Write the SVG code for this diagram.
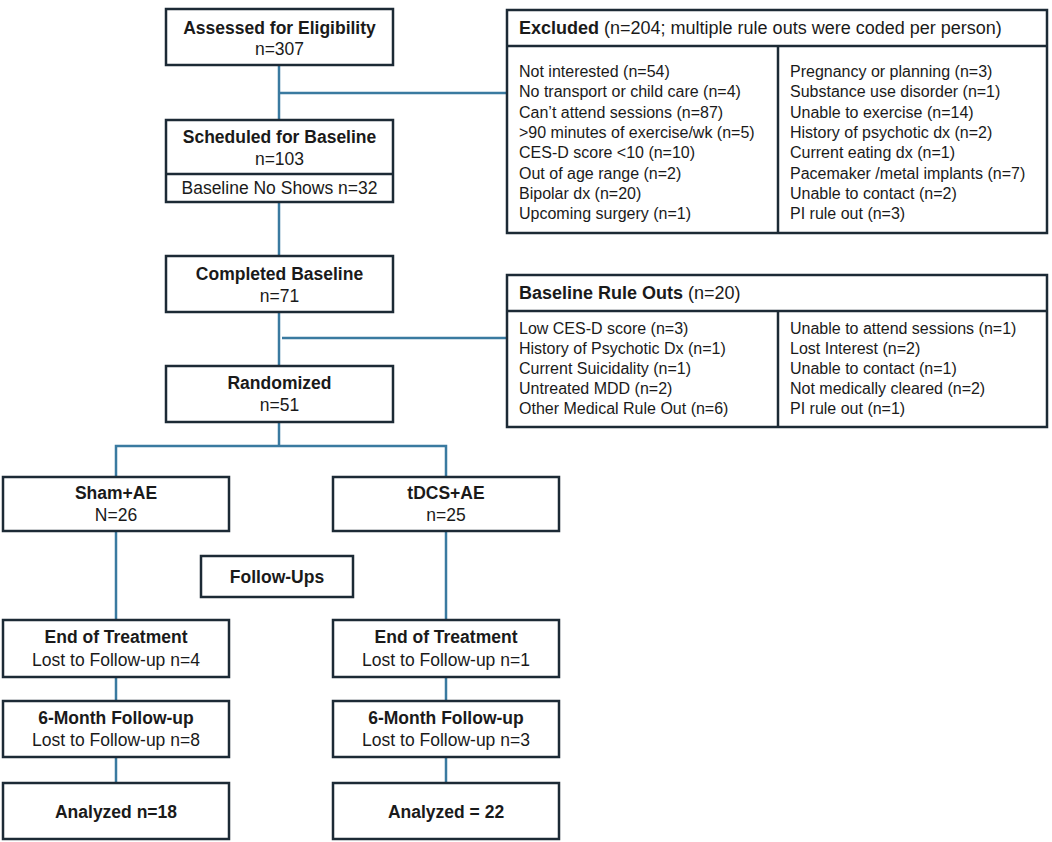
<svg xmlns="http://www.w3.org/2000/svg" width="1052" height="842" viewBox="0 0 1052 842">
<style>
.box{fill:#fff;stroke:#1c2a35;stroke-width:2.5}
.div{stroke:#1c2a35;stroke-width:2.5;fill:none}
.con{stroke:#3a7aa0;stroke-width:2.5;fill:none}
text{font-family:"Liberation Sans",Arial,sans-serif;font-size:16px;fill:#1a1a1a}
.b{font-size:17.5px}
.h{font-size:18px}
.t{font-weight:bold}
.c{text-anchor:middle}
</style>
<rect width="1052" height="842" fill="#fff"/>
<g id="connectors">
<line class="con" x1="279" y1="65" x2="279" y2="120"/>
<line class="con" x1="279" y1="93" x2="507" y2="93"/>
<line class="con" x1="279" y1="202" x2="279" y2="256"/>
<line class="con" x1="279" y1="312" x2="279" y2="366"/>
<line class="con" x1="282" y1="338" x2="507" y2="338"/>
<polyline class="con" points="279,422 279,446"/>
<polyline class="con" points="116,477 116,446 446,446 446,477"/>
<line class="con" x1="116" y1="531" x2="116" y2="620"/>
<line class="con" x1="116" y1="677" x2="116" y2="701"/>
<line class="con" x1="116" y1="757" x2="116" y2="783"/>
<line class="con" x1="446" y1="531" x2="446" y2="620"/>
<line class="con" x1="446" y1="677" x2="446" y2="701"/>
<line class="con" x1="446" y1="757" x2="446" y2="783"/>
</g>
<g id="assessed">
<rect class="box" x="166" y="9" width="227" height="56"/>
<text class="b t c" x="279.5" y="34">Assessed for Eligibility</text>
<text class="b c" x="279.5" y="55">n=307</text>
</g>
<g id="scheduled">
<rect class="box" x="166" y="120" width="227" height="82"/>
<line class="div" x1="166" y1="174" x2="393" y2="174"/>
<text class="b t c" x="279.5" y="143">Scheduled for Baseline</text>
<text class="b c" x="279.5" y="165">n=103</text>
<text class="b c" x="279.5" y="194">Baseline No Shows n=32</text>
</g>
<g id="completed">
<rect class="box" x="166" y="256" width="227" height="56"/>
<text class="b t c" x="279.5" y="280">Completed Baseline</text>
<text class="b c" x="279.5" y="302">n=71</text>
</g>
<g id="randomized">
<rect class="box" x="166" y="366" width="227" height="56"/>
<text class="b t c" x="279.5" y="389">Randomized</text>
<text class="b c" x="279.5" y="411">n=51</text>
</g>
<g id="excluded">
<rect class="box" x="507" y="10" width="540" height="223"/>
<line class="div" x1="507" y1="46" x2="1047" y2="46"/>
<line class="div" x1="778" y1="46" x2="778" y2="233"/>
<text class="h" x="519" y="34"><tspan class="t">Excluded</tspan> (n=204; multiple rule outs were coded per person)</text>
<text x="519" y="77">Not interested (n=54)</text>
<text x="519" y="97">No transport or child care (n=4)</text>
<text x="519" y="117.5">Can’t attend sessions (n=87)</text>
<text x="519" y="138">&gt;90 minutes of exercise/wk (n=5)</text>
<text x="519" y="158">CES-D score &lt;10 (n=10)</text>
<text x="519" y="178.5">Out of age range (n=2)</text>
<text x="519" y="199">Bipolar dx (n=20)</text>
<text x="519" y="219">Upcoming surgery (n=1)</text>
<text x="790" y="77">Pregnancy  or planning (n=3)</text>
<text x="790" y="97">Substance use disorder (n=1)</text>
<text x="790" y="117.5">Unable to exercise (n=14)</text>
<text x="790" y="138">History of psychotic dx  (n=2)</text>
<text x="790" y="158">Current eating dx  (n=1)</text>
<text x="790" y="178.5">Pacemaker /metal implants (n=7)</text>
<text x="790" y="199">Unable to contact (n=2)</text>
<text x="790" y="219">PI rule out (n=3)</text>
</g>
<g id="baseline-ruleouts">
<rect class="box" x="507" y="275" width="540" height="152"/>
<line class="div" x1="507" y1="311" x2="1047" y2="311"/>
<line class="div" x1="778" y1="311" x2="778" y2="427"/>
<text class="h" x="519" y="299"><tspan class="t">Baseline Rule Outs</tspan> (n=20)</text>
<text x="519" y="334">Low CES-D score (n=3)</text>
<text x="519" y="354">History of Psychotic Dx (n=1)</text>
<text x="519" y="374">Current Suicidality (n=1)</text>
<text x="519" y="394">Untreated MDD (n=2)</text>
<text x="519" y="414">Other Medical Rule Out (n=6)</text>
<text x="790" y="334">Unable to attend sessions (n=1)</text>
<text x="790" y="354">Lost Interest (n=2)</text>
<text x="790" y="374">Unable to contact (n=1)</text>
<text x="790" y="394">Not medically cleared (n=2)</text>
<text x="790" y="414">PI rule out (n=1)</text>
</g>
<g id="sham">
<rect class="box" x="3" y="477" width="226" height="54"/>
<text class="b t c" x="116" y="499">Sham+AE</text>
<text class="b c" x="116" y="521">N=26</text>
</g>
<g id="tdcs">
<rect class="box" x="333" y="477" width="226" height="54"/>
<text class="b t c" x="446" y="499">tDCS+AE</text>
<text class="b c" x="446" y="521">n=25</text>
</g>
<g id="followups">
<rect class="box" x="201" y="556" width="152" height="41"/>
<text class="b t c" x="277" y="583">Follow-Ups</text>
</g>
<g id="sham-eot">
<rect class="box" x="3" y="620" width="226" height="57"/>
<text class="b t c" x="116" y="643">End of Treatment</text>
<text class="b c" x="116" y="666">Lost to Follow-up n=4</text>
</g>
<g id="tdcs-eot">
<rect class="box" x="333" y="620" width="226" height="57"/>
<text class="b t c" x="446" y="643">End of Treatment</text>
<text class="b c" x="446" y="666">Lost to Follow-up n=1</text>
</g>
<g id="sham-6m">
<rect class="box" x="3" y="701" width="226" height="56"/>
<text class="b t c" x="116" y="724">6-Month Follow-up</text>
<text class="b c" x="116" y="746">Lost to Follow-up n=8</text>
</g>
<g id="tdcs-6m">
<rect class="box" x="333" y="701" width="226" height="56"/>
<text class="b t c" x="446" y="724">6-Month Follow-up</text>
<text class="b c" x="446" y="746">Lost to Follow-up n=3</text>
</g>
<g id="sham-analyzed">
<rect class="box" x="3" y="783" width="226" height="56"/>
<text class="b t c" x="116" y="818">Analyzed n=18</text>
</g>
<g id="tdcs-analyzed">
<rect class="box" x="333" y="783" width="226" height="56"/>
<text class="b t c" x="446" y="818">Analyzed = 22</text>
</g>
</svg>
